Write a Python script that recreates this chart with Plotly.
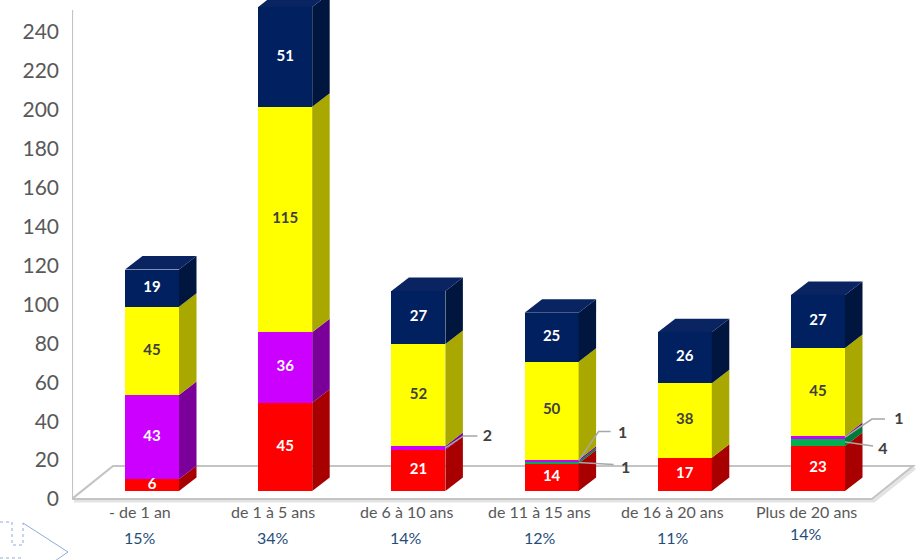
import plotly.graph_objects as go

# ---------------- data ----------------
categories = ["- de 1 an", "de 1 à 5 ans", "de 6 à 10 ans", "de 11 à 15 ans", "de 16 à 20 ans", "Plus de 20 ans"]
shares = ["15%", "34%", "14%", "12%", "11%", "14%"]
red = [6, 45, 21, 14, 17, 23]
green = [0, 0, 0, 1, 0, 4]
purple = [43, 36, 2, 1, 0, 1]
yellow = [45, 115, 52, 50, 38, 45]
navy = [19, 51, 27, 25, 26, 27]
y_ticks = list(range(0, 241, 20))

series = [
    ("Rouge", red, "#FF0000", "#A80000", "white"),
    ("Vert", green, "#00B050", "#007A38", "white"),
    ("Violet", purple, "#CC00FF", "#7A0099", "white"),
    ("Jaune", yellow, "#FFFF00", "#A8A800", "#404040"),
    ("Bleu", navy, "#002060", "#00163F", "white"),
]

# ---------------- geometry (pixel based constants) ----------------
W, H = 923, 560
ML, MR, MT, MB = 72, 0, 0, 55
PLOT_BOTTOM = H - MB
X_UNIT = 133.2          # px per category
X0_PX = 152             # px of first bar center
Y_TICK_PX = 1.946       # px per unit on tick axis
Y_BAR_PX = 1.96         # px per unit on bar axis
TICK_ZERO_PX = 499
BAR_ZERO_PX = 491
BAR_W = 54 / X_UNIT
DX = 17.5 / X_UNIT
DY = 13.5 / Y_BAR_PX

x_range = [-(X0_PX - ML) / X_UNIT, (W - MR - X0_PX) / X_UNIT]
y_range = [-(PLOT_BOTTOM - TICK_ZERO_PX) / Y_TICK_PX, (TICK_ZERO_PX - MT) / Y_TICK_PX]
y2_range = [-(PLOT_BOTTOM - BAR_ZERO_PX) / Y_BAR_PX, (BAR_ZERO_PX - MT) / Y_BAR_PX]


def px_dx(p):
    return p / X_UNIT


def px_dy(p):
    return p / Y_BAR_PX


def paper_x(px):
    return (px - ML) / (W - ML - MR)


def paper_y(py):
    return (PLOT_BOTTOM - py) / (PLOT_BOTTOM - MT)


fig = go.Figure()
shapes = []
xs = list(range(len(categories)))

# front faces
for name, vals, front, side, tcol in series:
    fig.add_trace(go.Bar(
        x=xs, y=vals, name=name, yaxis="y2", width=BAR_W,
        marker=dict(color=front, line=dict(width=0)),
        hoverinfo="skip", showlegend=False,
    ))

# side / top faces + inside labels
lab_x, lab_y, lab_t, lab_c = [], [], [], []
totals = [sum(s[1][i] for s in series) for i in xs]
for i in xs:
    base = 0
    xr = i + BAR_W / 2
    xl = i - BAR_W / 2
    for k, (name, vals, front, side, tcol) in enumerate(series):
        v = vals[i]
        if v <= 0:
            continue
        top = base + v
        path = (f"M{xr},{base} L{xr + DX},{base + DY} L{xr + DX},{top + DY} "
                f"L{xr},{top} Z")
        shapes.append(dict(type="path", path=path, xref="x", yref="y2",
                           fillcolor=side, line=dict(width=0), layer="above"))
        if top == totals[i]:
            tpath = (f"M{xl},{top} L{xl + DX},{top + DY} L{xr + DX},{top + DY} "
                     f"L{xr},{top} Z")
            shapes.append(dict(type="path", path=tpath, xref="x", yref="y2",
                               fillcolor="#0A2462", line=dict(width=0), layer="above"))
        if v >= 5:
            lab_x.append(i)
            lab_y.append(base + v / 2)
            lab_t.append(str(v))
            lab_c.append(tcol)
        base = top

fig.add_trace(go.Scatter(
    x=lab_x, y=lab_y, text=lab_t, mode="text", yaxis="y2",
    textfont=dict(family="Lato", size=15, color=lab_c, weight="bold"),
    hoverinfo="skip", showlegend=False, cliponaxis=False,
))

# callouts for tiny segments: (bar, series index, bend offsets px, label offset px)
callouts = [
    (2, 2, [(18, -12), (32, -12)], (42, -11)),
    (3, 2, [(20, -29), (32, -29)], (44, -27)),
    (3, 1, [(35, 2)], (47, 6)),
    (5, 2, [(27, -18), (40, -18)], (54, -17)),
    (5, 1, [(28, 4)], (38, 8)),
]
c_x, c_y, c_t = [], [], []
for i, k, bends, lab in callouts:
    vals = series[k][1]
    base = sum(series[j][1][i] for j in range(k))
    v = vals[i]
    y0 = base + v / 2
    x0 = i + BAR_W / 2
    pts = [(x0, y0)] + [(x0 + px_dx(bx), y0 - px_dy(by)) for bx, by in bends]
    path = "M" + " L".join(f"{a},{b}" for a, b in pts)
    shapes.append(dict(type="path", path=path, xref="x", yref="y2",
                       line=dict(color="#A6A6A6", width=1.5), layer="above"))
    c_x.append(x0 + px_dx(lab[0]))
    c_y.append(y0 - px_dy(lab[1]))
    c_t.append(str(v))

fig.add_trace(go.Scatter(
    x=c_x, y=c_y, text=c_t, mode="text", yaxis="y2",
    textfont=dict(family="Lato", size=16, color="#404040", weight="bold"),
    hoverinfo="skip", showlegend=False, cliponaxis=False,
))

# floor (3D base) on tick axis
f_back = 33 / Y_TICK_PX
fl, fbl = x_range[0], x_range[0] + px_dx(41)
fbr, ffr = (913 - X0_PX) / X_UNIT, (872 - X0_PX) / X_UNIT
# shadow
shapes.insert(0, dict(type="path", xref="x", yref="y",
                      path=f"M{fl + px_dx(2)},{-2 / Y_TICK_PX} L{ffr + px_dx(2)},{-2 / Y_TICK_PX} L{fbr + px_dx(2)},{f_back - 2 / Y_TICK_PX}",
                      line=dict(color="#E3E3E3", width=3), layer="below"))
shapes.insert(1, dict(type="path", xref="x", yref="y",
                      path=f"M{fl},0 L{fbl},{f_back} L{fbr},{f_back} L{ffr},0 Z",
                      line=dict(color="#C4C4C4", width=2.2), layer="below"))
# y axis line
shapes.insert(2, dict(type="line", xref="x", yref="y", x0=fl, x1=fl, y0=0,
                      y1=(TICK_ZERO_PX - 10) / Y_TICK_PX,
                      line=dict(color="#C4C4C4", width=2.2), layer="below"))

# decorative cut-off arrow at bottom-left
arrow_col = "#8FAADC"
shapes.append(dict(type="path", xref="paper", yref="paper",
                   path=(f"M{paper_x(0)},{paper_y(522)} L{paper_x(12)},{paper_y(522)} "
                         f"L{paper_x(12)},{paper_y(545)} L{paper_x(23)},{paper_y(545)} "
                         f"L{paper_x(23)},{paper_y(523)}"),
                   line=dict(color=arrow_col, width=1, dash="dot")))
shapes.append(dict(type="path", xref="paper", yref="paper",
                   path=f"M{paper_x(23)},{paper_y(523)} L{paper_x(68)},{paper_y(552)} L{paper_x(55)},{paper_y(561)}",
                   line=dict(color=arrow_col, width=1)))
shapes.append(dict(type="line", xref="paper", yref="paper",
                   x0=paper_x(0), x1=paper_x(23), y0=paper_y(558), y1=paper_y(558),
                   line=dict(color=arrow_col, width=1, dash="dot")))

# category labels and percentages
annotations = []
for i, (c, s) in enumerate(zip(categories, shares)):
    annotations.append(dict(x=i - px_dx(12), y=paper_y(523), xref="x", yref="paper",
                            text=c, showarrow=False,
                            font=dict(family="Lato", size=16, color="#595959")))
    annotations.append(dict(x=i - px_dx(12), y=paper_y(549 if i < 5 else 545),
                            xref="x", yref="paper", text=s, showarrow=False,
                            font=dict(family="Lato", size=16, color="#1F4E79")))

fig.update_layout(
    width=W, height=H,
    margin=dict(l=ML, r=MR, t=MT, b=MB, pad=0),
    paper_bgcolor="white", plot_bgcolor="white",
    barmode="stack", bargap=0,
    showlegend=False,
    font=dict(family="Lato"),
    xaxis=dict(range=x_range, showgrid=False, zeroline=False, showline=False,
               showticklabels=False, ticks="", fixedrange=True),
    yaxis=dict(range=y_range, tickvals=y_ticks, showgrid=False, zeroline=False,
               showline=False, ticks="", ticklabelstandoff=12,
               tickfont=dict(family="Lato", size=21, color="#595959")),
    yaxis2=dict(range=y2_range, overlaying="y", visible=False, showgrid=False,
                zeroline=False),
    shapes=shapes,
    annotations=annotations,
)

fig.write_html("out.html")
